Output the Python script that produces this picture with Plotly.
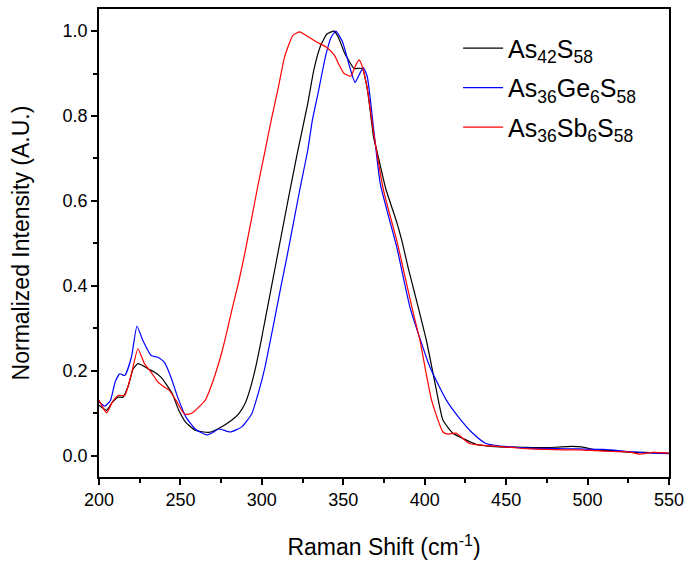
import plotly.graph_objects as go

# As42S58 (black)
x_black = [200, 204.7, 208, 211.7, 214.7, 218, 221, 223.9, 227, 230, 234, 238, 241, 245, 249, 253, 259,
           267.5, 273.5, 281.6, 286, 289.7, 293, 296, 299, 302, 306, 310, 316, 322, 328, 332, 336, 340,
           344.4, 347, 350.5, 353.5, 356.6, 361.6, 364.7, 368.7, 370.7, 376, 382.9, 386, 390, 395, 401,
           407.2, 411.2, 417.3, 423.4, 431.5, 445.7, 460, 470, 480.1, 490, 496.3, 506.5, 515, 526.7, 535,
           548.8, 550]
y_black = [0.119, 0.107, 0.125, 0.138, 0.138, 0.165, 0.205, 0.217, 0.212, 0.205, 0.197, 0.185, 0.170,
           0.146, 0.107, 0.080, 0.060, 0.055, 0.064, 0.084, 0.10, 0.123, 0.16, 0.205, 0.26, 0.32, 0.40,
           0.48, 0.60, 0.717, 0.826, 0.91, 0.965, 0.993, 1.0, 0.985, 0.951, 0.93, 0.912, 0.912, 0.865,
           0.748, 0.717, 0.63, 0.549, 0.506, 0.44, 0.365, 0.272, 0.154, 0.084, 0.053, 0.041, 0.027,
           0.021, 0.02, 0.019, 0.020, 0.022, 0.021, 0.013, 0.012, 0.008, 0.008, 0.006, 0.006]

# As36Ge6S58 (blue)
x_blue = [200, 203.6, 207, 210, 212.8, 215.8, 219.9, 223.3, 227, 232, 236.1, 240.2, 244.2, 248.3, 253.4,
          259.4, 266.5, 270, 273.6, 280.6, 287.7, 293.8, 298, 302, 304, 308, 312, 316, 320, 324, 328.2,
          331, 334.3, 339.3, 342.5, 345.4, 349.5, 353.6, 357.2, 359.7, 362.3, 364.7, 368.8, 372.8, 382.9,
          391, 403.2, 413.3, 421, 429.5, 437.6, 451.8, 465, 480, 495, 510, 525, 540, 550]
y_blue = [0.127, 0.117, 0.13, 0.175, 0.193, 0.189, 0.232, 0.305, 0.271, 0.236, 0.232, 0.220, 0.185,
          0.138, 0.091, 0.062, 0.049, 0.055, 0.063, 0.056, 0.068, 0.099, 0.15, 0.21, 0.248, 0.325, 0.404,
          0.48, 0.561, 0.64, 0.72, 0.79, 0.85, 0.944, 0.985, 1.0, 0.975, 0.92, 0.879, 0.897, 0.914, 0.893,
          0.764, 0.639, 0.49, 0.349, 0.209, 0.131, 0.09, 0.053, 0.029, 0.021, 0.018, 0.017, 0.016,
          0.015, 0.010, 0.006, 0.005]

# As36Sb6S58 (red)
x_red = [200, 204.7, 208, 211.7, 215.8, 219.9, 223.9, 227.9, 232, 236.1, 240, 243.2, 247.2, 252.3,
         255.3, 258, 261.4, 265.4, 268, 271.5, 275.5, 279, 282, 285.7, 289.7, 293.8, 297.8, 301.9,
         306, 310, 314, 319.1, 323.2, 328.2, 333.3, 339.3, 344.4, 347.5, 350.5, 354.6, 357.7, 359.7,
         361.7, 364.7, 368.8, 375, 382.9, 388, 393.1, 397.1, 404.2, 411.2, 414.3, 419.4, 423, 427.5,
         435, 445, 455, 465, 475, 485, 495, 505, 515, 525, 532, 540, 550]
y_red = [0.131, 0.101, 0.125, 0.142, 0.142, 0.193, 0.252, 0.217, 0.197, 0.174, 0.162, 0.154, 0.131,
         0.099, 0.098, 0.103, 0.115, 0.132, 0.155, 0.193, 0.245, 0.30, 0.35, 0.408, 0.48, 0.561, 0.64,
         0.717, 0.795, 0.865, 0.94, 0.99, 0.998, 0.987, 0.975, 0.963, 0.944, 0.92, 0.90, 0.894, 0.92,
         0.932, 0.916, 0.865, 0.756, 0.62, 0.506, 0.42, 0.334, 0.271, 0.131, 0.056, 0.051, 0.053, 0.042,
         0.029, 0.025, 0.022, 0.019, 0.016, 0.015, 0.014, 0.014, 0.012, 0.010, 0.009, 0.004, 0.008, 0.006]

names = ["As<sub>42</sub>S<sub>58</sub>", "As<sub>36</sub>Ge<sub>6</sub>S<sub>58</sub>",
         "As<sub>36</sub>Sb<sub>6</sub>S<sub>58</sub>"]

FONT = "Liberation Sans, Arial, sans-serif"

fig = go.Figure()
for i, (xs, ys, nm, col) in enumerate([(x_black, y_black, names[0], "#000000"),
                                       (x_blue, y_blue, names[1], "#0000FF"),
                                       (x_red, y_red, names[2], "#FF0000")]):
    fig.add_trace(go.Scatter(x=xs, y=ys, mode="lines", name=nm, legendgroup=f"g{i}",
                             line=dict(color=col, width=1.2, shape="spline", smoothing=0.5)))

axis_common = dict(showline=True, linecolor="black", linewidth=1.5, mirror=True,
                   ticks="outside", ticklen=6, tickwidth=1.5, tickcolor="black",
                   showgrid=False, zeroline=False,
                   tickfont=dict(family=FONT, size=18, color="black"))

fig.update_xaxes(range=[200, 550], tickmode="array", tickvals=[200, 250, 300, 350, 400, 450, 500, 550],
                 minor=dict(ticks="outside", ticklen=4, tickwidth=1.5, tickcolor="black", dtick=25,
                            tick0=200),
                 title=dict(text="Raman Shift (cm<sup>-1</sup>)", font=dict(family=FONT, size=23, color="black"),
                            standoff=30),
                 **axis_common)
fig.update_yaxes(range=[-0.05, 1.052], tickmode="array", tickvals=[0, 0.2, 0.4, 0.6, 0.8, 1.0],
                 tickformat=".1f",
                 minor=dict(ticks="outside", ticklen=4, tickwidth=1.5, tickcolor="black", dtick=0.1,
                            tick0=0),
                 title=dict(text="Normalized Intensity (A.U.)", font=dict(family=FONT, size=23, color="black"),
                            standoff=27),
                 **axis_common)

fig.update_layout(
    width=691, height=565,
    margin=dict(l=99, r=16, t=7, b=88),
    paper_bgcolor="white", plot_bgcolor="white",
    font=dict(family=FONT, color="black"),
    legend=dict(x=0.63, y=0.965, xanchor="left", yanchor="top",
                font=dict(family=FONT, size=25, color="black"),
                bgcolor="rgba(0,0,0,0)", itemwidth=40, tracegroupgap=4),
    showlegend=True,
)

fig.write_html("out.html")
